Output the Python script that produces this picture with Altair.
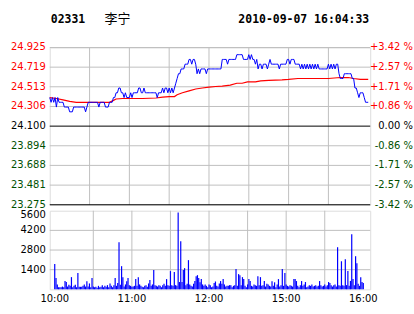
import altair as alt
import pandas as pd

# ---------------- data ----------------
price = [
    24.40, 24.35, 24.40, 24.35, 24.40, 24.30, 24.40, 24.35, 24.35, 24.35,
    24.35, 24.30, 24.30, 24.30, 24.30, 24.25, 24.25, 24.25, 24.30, 24.30,
    24.30, 24.30, 24.30, 24.30, 24.30, 24.30, 24.30, 24.25, 24.30, 24.35,
    24.35, 24.35, 24.35, 24.35, 24.35, 24.35, 24.35, 24.30, 24.35, 24.35,
    24.35, 24.35, 24.30, 24.30, 24.30, 24.35, 24.35, 24.35, 24.40, 24.40,
    24.45, 24.45, 24.50, 24.50, 24.45, 24.45, 24.40, 24.45, 24.40, 24.40,
    24.40, 24.45, 24.40, 24.45, 24.45, 24.45, 24.45, 24.50, 24.50, 24.45,
    24.45, 24.50, 24.45, 24.45, 24.45, 24.45, 24.45, 24.45, 24.45, 24.45,
    24.45, 24.40, 24.45, 24.45, 24.45, 24.50, 24.45, 24.50, 24.50, 24.45,
    24.50, 24.45, 24.50, 24.45, 24.50, 24.55, 24.60, 24.65, 24.65, 24.70,
    24.70, 24.70, 24.75, 24.75, 24.75, 24.80, 24.80, 24.75, 24.80, 24.80,
    24.75, 24.65, 24.70, 24.65, 24.70, 24.70, 24.70, 24.70, 24.65, 24.70,
    24.70, 24.70, 24.70, 24.70, 24.70, 24.70, 24.70, 24.70, 24.70, 24.70,
    24.80, 24.80, 24.80, 24.80, 24.75, 24.80, 24.80, 24.80, 24.80, 24.80,
    24.80, 24.85, 24.85, 24.85, 24.85, 24.85, 24.80, 24.80, 24.80, 24.80,
    24.85, 24.80, 24.85, 24.80, 24.80, 24.75, 24.80, 24.70, 24.75, 24.75,
    24.70, 24.75, 24.75, 24.75, 24.70, 24.75, 24.80, 24.75, 24.75, 24.75,
    24.75, 24.75, 24.75, 24.70, 24.75, 24.75, 24.75, 24.75, 24.75, 24.80,
    24.80, 24.75, 24.80, 24.80, 24.80, 24.75, 24.75, 24.75, 24.75, 24.70,
    24.75, 24.70, 24.75, 24.70, 24.75, 24.70, 24.75, 24.70, 24.75, 24.70,
    24.75, 24.70, 24.75, 24.70, 24.70, 24.70, 24.70, 24.70, 24.70, 24.70,
    24.75, 24.70, 24.75, 24.70, 24.75, 24.70, 24.75, 24.75, 24.65, 24.60,
    24.60, 24.60, 24.65, 24.65, 24.65, 24.65, 24.65, 24.65, 24.60, 24.60,
    24.50, 24.50, 24.45, 24.40, 24.45, 24.45, 24.45, 24.40, 24.35, 24.35, 24.35,
]

avg_minutes = [0, 5, 10, 15, 20, 30, 40, 45, 48, 50,
               55, 60, 70, 80, 85, 90, 94, 96, 100, 105,
               110, 115, 120, 125, 130, 136, 141, 145, 149, 155,
               159, 165, 175, 180, 187, 200, 210, 219, 225, 229,
               234, 240]
avg_values = [24.40, 24.39, 24.375, 24.36, 24.35, 24.35, 24.35, 24.35, 24.37, 24.385,
              24.39, 24.39, 24.39, 24.395, 24.405, 24.41, 24.41, 24.43, 24.45, 24.47,
              24.49, 24.50, 24.51, 24.516, 24.52, 24.53, 24.55, 24.55, 24.565, 24.565,
              24.575, 24.58, 24.585, 24.59, 24.60, 24.60, 24.60, 24.61, 24.61, 24.60,
              24.59, 24.59]

volume = [
    1800, 800, 350, 150, 150, 150, 200, 150, 590, 520,
    200, 330, 250, 870, 150, 250, 330, 150, 1160, 180,
    180, 180, 250, 350, 200, 570, 200, 420, 150, 800,
    200, 150, 180, 120, 250, 150, 180, 300, 150, 250,
    180, 300, 150, 420, 250, 150, 300, 800, 250, 450,
    3350, 330, 1650, 870, 200, 350, 570, 800, 300, 250,
    180, 200, 250, 730, 250, 870, 350, 250, 180, 150,
    250, 300, 180, 420, 660, 250, 350, 1370, 300, 250,
    200, 300, 250, 150, 300, 400, 250, 730, 300, 250,
    1300, 300, 250, 1230, 300, 250, 5475, 520, 3420, 520,
    1370, 1510, 300, 400, 2080, 350, 250, 200, 400, 600,
    940, 1010, 800, 500, 730, 350, 250, 350, 250, 150,
    350, 300, 150, 200, 450, 560, 250, 200, 420, 590,
    400, 730, 350, 200, 250, 250, 300, 300, 150, 250,
    300, 1440, 250, 1085, 1010, 300, 870, 730, 250, 150,
    350, 730, 590, 250, 200, 350, 300, 250, 940, 300,
    870, 250, 300, 590, 200, 400, 350, 250, 200, 570,
    250, 500, 150, 350, 730, 200, 300, 1440, 250, 1160,
    350, 250, 200, 300, 250, 200, 730, 730, 590, 250,
    150, 300, 590, 250, 350, 520, 150, 200, 300, 250,
    350, 200, 250, 300, 200, 250, 590, 300, 200, 250,
    350, 200, 300, 520, 450, 300, 200, 300, 350, 200,
    3000, 300, 250, 2000, 300, 250, 2150, 300, 1300, 250,
    600, 3920, 730, 300, 2360, 1860, 400, 250, 870, 520, 450,
]

code_text = ["02331"]
name_text = ["李宁"]
stamp_text = ["2010-09-07 16:04:33"]

price_ticks = [24.925, 24.719, 24.513, 24.306, 24.100, 23.894, 23.688, 23.481, 23.275]
price_tick_labels = ["24.925", "24.719", "24.513", "24.306", "24.100",
                     "23.894", "23.688", "23.481", "23.275"]
pct_tick_labels = ["+3.42 %", "+2.57 %", "+1.71 %", "+0.86 %", "0.00 %",
                   "-0.86 %", "-1.71 %", "-2.57 %", "-3.42 %"]
label_colors = ["#ff0000"] * 4 + ["#000000"] + ["#005000"] * 4
grid_colors = ["#c0c0c0"] * 4 + ["#000000"] + ["#c0c0c0"] * 3 + ["#000000"]

time_ticks = [0, 60, 120, 180, 240]
time_labels = ["10:00", "11:00", "12:00", "15:00", "16:00"]
vgrid_minutes = [30, 60, 90, 120, 150, 180, 210]

vol_ticks = [4200, 2800, 1400]
vol_tick_labels = ["4200", "2800", "1400"]
vol_top = [5600]
vol_top_label = ["5600"]

# ---------------- frames ----------------
minutes = list(range(len(price)))
price_df = pd.DataFrame({"m": minutes, "p": price})
avg_df = pd.DataFrame({"m": avg_minutes, "a": avg_values})
vol_df = pd.DataFrame({"m": list(range(len(volume))), "v": volume})
ptick_df = pd.DataFrame({"p": price_ticks, "lab": price_tick_labels, "pct": pct_tick_labels,
                         "c": label_colors, "g": grid_colors})
vgrid_df = pd.DataFrame({"m": vgrid_minutes})
time_df = pd.DataFrame({"m": time_ticks, "lab": time_labels})
vtick_df = pd.DataFrame({"v": vol_ticks, "lab": vol_tick_labels})
vtop_df = pd.DataFrame({"v": vol_top, "lab": vol_top_label})

W, H1, H2 = 322, 158, 79
FONT = "DejaVu Sans"
GRID = "#c0c0c0"

xs = alt.Scale(domain=[0, 241.5], nice=False, zero=False)
ys = alt.Scale(domain=[23.275, 24.925], nice=False, zero=False)
vs = alt.Scale(domain=[0, 5600], nice=False)

X = alt.X("m:Q", scale=xs, axis=None)

# ---------------- price panel ----------------
vgrid1 = alt.Chart(vgrid_df).mark_rule(color=GRID, strokeWidth=1).encode(x=X)
hgrid1 = alt.Chart(ptick_df).mark_rule(strokeWidth=1).encode(
    y=alt.Y("p:Q", scale=ys, axis=None), color=alt.Color("g:N", scale=None))
avg_line = alt.Chart(avg_df).mark_line(color="#ff0000", strokeWidth=1.2).encode(
    x=X, y=alt.Y("a:Q", scale=ys, axis=None))
price_line = alt.Chart(price_df).mark_line(color="#0000ff", strokeWidth=1).encode(
    x=X, y=alt.Y("p:Q", scale=ys, axis=None))
left_lab = alt.Chart(ptick_df).mark_text(align="right", baseline="middle", font=FONT,
                                         fontSize=10, dx=-4).encode(
    x=alt.value(0), y=alt.Y("p:Q", scale=ys, axis=None), text="lab:N",
    color=alt.Color("c:N", scale=None))
right_lab = alt.Chart(ptick_df).mark_text(align="right", baseline="middle", font=FONT,
                                          fontSize=10).encode(
    x=alt.value(W + 43), y=alt.Y("p:Q", scale=ys, axis=None), text="pct:N",
    color=alt.Color("c:N", scale=None))
h_code = alt.Chart(pd.DataFrame({"t": code_text})).mark_text(
    align="left", baseline="alphabetic", font="DejaVu Sans Mono", fontWeight="bold",
    fontSize=11.5, color="#000000").encode(x=alt.value(1), y=alt.value(-25), text="t:N")
h_name = alt.Chart(pd.DataFrame({"t": name_text})).mark_text(
    align="left", baseline="alphabetic", font="Noto Sans CJK SC",
    fontSize=13, color="#000000").encode(x=alt.value(55), y=alt.value(-25), text="t:N")
h_stamp = alt.Chart(pd.DataFrame({"t": stamp_text})).mark_text(
    align="right", baseline="alphabetic", font="DejaVu Sans Mono", fontWeight="bold",
    fontSize=11.5, color="#000000").encode(x=alt.value(W - 1), y=alt.value(-25), text="t:N")

price_chart = alt.layer(vgrid1, hgrid1, avg_line, price_line, left_lab, right_lab,
                        h_code, h_name, h_stamp).properties(width=W, height=H1)

# ---------------- volume panel ----------------
vgrid2 = alt.Chart(vgrid_df).mark_rule(color=GRID, strokeWidth=1).encode(x=X)
hgrid2 = alt.Chart(vtick_df).mark_rule(color=GRID, strokeWidth=1).encode(
    y=alt.Y("v:Q", scale=vs, axis=None))
bars = alt.Chart(vol_df).mark_bar(color="#0000ff", size=1.2, orient="vertical").encode(
    x=X, y=alt.Y("v:Q", scale=vs, axis=None))
vlab = alt.Chart(vtick_df).mark_text(align="right", baseline="middle", font=FONT,
                                     fontSize=10, dx=-4, color="#000000").encode(
    x=alt.value(0), y=alt.Y("v:Q", scale=vs, axis=None), text="lab:N")
vtop = alt.Chart(vtop_df).mark_text(align="right", baseline="middle", font=FONT,
                                    fontSize=10, dx=-4, dy=4.5, color="#000000").encode(
    x=alt.value(0), y=alt.Y("v:Q", scale=vs, axis=None), text="lab:N")
tlab = alt.Chart(time_df).mark_text(align="center", baseline="middle", font=FONT,
                                    fontSize=10, color="#000000").encode(
    x=X, y=alt.value(H2 + 10), text="lab:N")

vol_chart = alt.layer(vgrid2, hgrid2, bars, vlab, vtop, tlab).properties(width=W, height=H2)

chart = alt.vconcat(price_chart, vol_chart, spacing=6, bounds="flush").properties(
    padding={"left": 10, "top": 11, "right": 0, "bottom": 0}
).configure_view(stroke=GRID, strokeWidth=1).configure(background="#ffffff")

chart.save("out.html", embed_options={"renderer": "svg", "actions": False})
